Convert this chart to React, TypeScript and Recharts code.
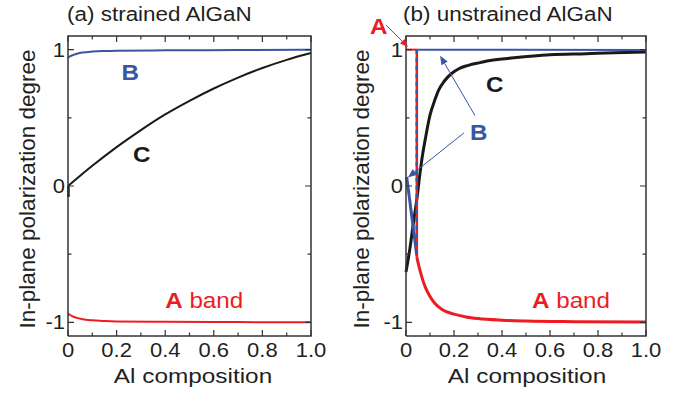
import React from 'react';
import { LineChart, Line, XAxis, YAxis, ReferenceLine, ReferenceDot } from 'recharts';

const FONT = '"Liberation Sans", Arial, Helvetica, sans-serif';
const TXT = '#231f20';
const BLUE = '#3a55a4';
const RED = '#ed1c24';
const BLACK = '#1a1a1a';
const FRAME = '#333333';

// ---- ticks ----
const xTicks = [0, 0.1, 0.2, 0.3, 0.4, 0.5, 0.6, 0.7, 0.8, 0.9, 1.0];
const xMajorLabels = ['0', '0.2', '0.4', '0.6', '0.8', '1.0'];
const yTicks = [-1, -0.5, 0, 0.5, 1];
const yMajorLabels = ['-1', '0', '1'];
const xDomain = [0, 1];
const yDomain = [-1.1, 1.1];

// ---- (a) strained AlGaN ----
const aB = [
  { x: 0, y: 0.94 }, { x: 0.01, y: 0.952 }, { x: 0.02, y: 0.96 }, { x: 0.04, y: 0.972 },
  { x: 0.06, y: 0.979 }, { x: 0.1, y: 0.986 }, { x: 0.15, y: 0.99 }, { x: 0.2, y: 0.992 },
  { x: 0.4, y: 0.995 }, { x: 0.7, y: 0.997 }, { x: 1.0, y: 1.0 },
];
const aCStub = [{ x: 0.002, y: -0.08 }, { x: 0.002, y: 0 }];
const aC = [
  { x: 0, y: 0 }, { x: 0.05, y: 0.075 }, { x: 0.1, y: 0.148 }, { x: 0.2, y: 0.285 },
  { x: 0.3, y: 0.41 }, { x: 0.4, y: 0.525 }, { x: 0.5, y: 0.625 }, { x: 0.6, y: 0.715 },
  { x: 0.7, y: 0.795 }, { x: 0.8, y: 0.865 }, { x: 0.9, y: 0.925 }, { x: 1.0, y: 0.975 },
];
const aA = [
  { x: 0, y: -0.935 }, { x: 0.01, y: -0.948 }, { x: 0.02, y: -0.957 }, { x: 0.04, y: -0.969 },
  { x: 0.06, y: -0.977 }, { x: 0.1, y: -0.985 }, { x: 0.15, y: -0.99 }, { x: 0.2, y: -0.993 },
  { x: 0.4, y: -0.996 }, { x: 0.7, y: -0.998 }, { x: 1.0, y: -1.0 },
];

// ---- (b) unstrained AlGaN ----
const bATop = [{ x: 0, y: 1 }, { x: 0.045, y: 1 }];
const bJump = [{ x: 0.045, y: 1 }, { x: 0.045, y: -0.52 }];
const bA = [
  { x: 0.045, y: -0.52 }, { x: 0.05, y: -0.56 }, { x: 0.06, y: -0.63 }, { x: 0.07, y: -0.69 },
  { x: 0.08, y: -0.74 }, { x: 0.1, y: -0.81 }, { x: 0.12, y: -0.86 }, { x: 0.15, y: -0.905 },
  { x: 0.2, y: -0.94 }, { x: 0.25, y: -0.96 }, { x: 0.3, y: -0.972 }, { x: 0.4, y: -0.984 },
  { x: 0.5, y: -0.99 }, { x: 0.7, y: -0.995 }, { x: 1.0, y: -0.998 },
];
const bBTop = [{ x: 0.045, y: 1 }, { x: 1.0, y: 0.997 }];
const bBLow = [{ x: 0.003, y: 0.067 }, { x: 0.045, y: -0.51 }];
const bC = [
  { x: 0, y: -0.63 }, { x: 0.017, y: -0.45 }, { x: 0.03, y: -0.28 }, { x: 0.045, y: -0.1 },
  { x: 0.058, y: 0.09 }, { x: 0.07, y: 0.24 }, { x: 0.08, y: 0.34 }, { x: 0.1, y: 0.52 },
  { x: 0.12, y: 0.63 }, { x: 0.135, y: 0.7 }, { x: 0.16, y: 0.77 }, { x: 0.19, y: 0.825 },
  { x: 0.22, y: 0.86 }, { x: 0.26, y: 0.885 }, { x: 0.31, y: 0.905 }, { x: 0.35, y: 0.92 },
  { x: 0.45, y: 0.94 }, { x: 0.6, y: 0.962 }, { x: 0.75, y: 0.97 }, { x: 0.87, y: 0.977 },
  { x: 1.0, y: 0.982 },
];

// ---- layout ----
const CHART_H = 395;
const X_AXIS_H = 59;
const Y_AXIS_W = 1;
const panelA = { left: 0, width: 343, margin: { top: 36, right: 32, left: 67, bottom: 0 } };
const panelB = { left: 343, width: 344, margin: { top: 36, right: 41, left: 62, bottom: 0 } };

const isMajorX = (v: number) => Math.round(v * 10) % 2 === 0;
const isMajorY = (v: number) => Math.abs(v - Math.round(v)) < 1e-6;

// frame outline (plot box) and inward tick marks, as line series in data units
const frameLoop = [
  { x: xDomain[0], y: yDomain[0] }, { x: xDomain[1], y: yDomain[0] },
  { x: xDomain[1], y: yDomain[1] }, { x: xDomain[0], y: yDomain[1] },
  { x: xDomain[0], y: yDomain[0] },
];
const tickMarks = (pn: typeof panelA) => {
  const plotW = pn.width - pn.margin.left - Y_AXIS_W - pn.margin.right;
  const plotH = CHART_H - pn.margin.top - pn.margin.bottom - X_AXIS_H;
  const dxPerPx = (xDomain[1] - xDomain[0]) / plotW;
  const dyPerPx = (yDomain[1] - yDomain[0]) / plotH;
  const pts: { x: number; y: number | null }[] = [];
  xTicks.forEach((v) => {
    const len = (isMajorX(v) ? 6 : 3.5) * dyPerPx;
    pts.push({ x: v, y: yDomain[0] }, { x: v, y: yDomain[0] + len }, { x: v, y: null });
    pts.push({ x: v, y: yDomain[1] }, { x: v, y: yDomain[1] - len }, { x: v, y: null });
  });
  yTicks.forEach((v) => {
    const len = (isMajorY(v) ? 6 : 3.5) * dxPerPx;
    pts.push({ x: xDomain[0], y: v }, { x: xDomain[0] + len, y: v }, { x: xDomain[0], y: null });
    pts.push({ x: xDomain[1], y: v }, { x: xDomain[1] - len, y: v }, { x: xDomain[1], y: null });
  });
  return pts;
};
const ticksA = tickMarks(panelA);
const ticksB = tickMarks(panelB);

const BottomLabel = (p: any) => {
  const v = p.payload.value;
  if (!isMajorX(v)) return <g />;
  return (
    <text transform={`translate(${p.x},${p.y + 21}) scale(1.1,1)`} textAnchor="middle"
      fontSize={20} fontFamily={FONT} fill={TXT} stroke="none">{xMajorLabels[Math.round(v * 5)]}</text>
  );
};
const LeftLabel = (p: any) => {
  const v = p.payload.value;
  if (!isMajorY(v)) return <g />;
  return (
    <text transform={`translate(${p.x - 3},${p.y + 7}) scale(1.1,1)`} textAnchor="end"
      fontSize={20} fontFamily={FONT} fill={TXT} stroke="none">{yMajorLabels[Math.round(v) + 1]}</text>
  );
};

const bandLabel = (text: string, color: string, suffix?: string) => (p: any) => (
  <text transform={`translate(${p.cx},${p.cy}) scale(1.1,1)`} fontSize={22} fontFamily={FONT} fill={color}>
    <tspan fontWeight="bold">{text}</tspan>
    {suffix ? <tspan>{suffix}</tspan> : null}
  </text>
);

const arrowShape = (color: string, head: number) => (p: any) => {
  const dx = p.x2 - p.x1, dy = p.y2 - p.y1;
  const len = Math.sqrt(dx * dx + dy * dy) || 1;
  const ux = dx / len, uy = dy / len;
  const bx = p.x2 - ux * head, by = p.y2 - uy * head;
  const w = head * 0.4;
  const pts = `${p.x2},${p.y2} ${bx - uy * w},${by + ux * w} ${bx + uy * w},${by - ux * w}`;
  return (
    <g>
      <line x1={p.x1} y1={p.y1} x2={bx} y2={by} stroke={color} strokeWidth={1} />
      <polygon points={pts} fill={color} />
    </g>
  );
};

const PanelA = () => (
  <LineChart width={panelA.width} height={CHART_H} margin={panelA.margin}>
    <XAxis dataKey="x" type="number" domain={xDomain} ticks={xTicks} interval={0}
      height={X_AXIS_H} tickSize={0} tickMargin={0} tickLine={false}
      axisLine={false} tick={<BottomLabel />} />
    <YAxis type="number" domain={yDomain} ticks={yTicks} interval={0}
      width={Y_AXIS_W} tickSize={0} tickMargin={0} tickLine={false}
      axisLine={false} tick={<LeftLabel />} />
    <Line data={aB} dataKey="y" type="monotone" stroke={BLUE} strokeWidth={2} dot={false} isAnimationActive={false} />
    <Line data={aCStub} dataKey="y" type="linear" stroke={BLACK} strokeWidth={2.5} dot={false} isAnimationActive={false} />
    <Line data={aC} dataKey="y" type="monotone" stroke={BLACK} strokeWidth={2} dot={false} isAnimationActive={false} />
    <Line data={aA} dataKey="y" type="monotone" stroke={RED} strokeWidth={2} dot={false} isAnimationActive={false} />
    <Line data={ticksA} dataKey="y" type="linear" stroke={FRAME} strokeWidth={1.2} dot={false}
      connectNulls={false} isAnimationActive={false} />
    <Line data={frameLoop} dataKey="y" type="linear" stroke={FRAME} strokeWidth={1.5} dot={false}
      isAnimationActive={false} />
    <ReferenceDot x={0.22} y={0.78} r={0} shape={bandLabel('B', BLUE)} />
    <ReferenceDot x={0.267} y={0.174} r={0} shape={bandLabel('C', BLACK)} />
    <ReferenceDot x={0.4} y={-0.895} r={0} shape={bandLabel('A', RED, ' band')} />
  </LineChart>
);

const PanelB = () => (
  <LineChart width={panelB.width} height={CHART_H} margin={panelB.margin}>
    <XAxis dataKey="x" type="number" domain={xDomain} ticks={xTicks} interval={0}
      height={X_AXIS_H} tickSize={0} tickMargin={0} tickLine={false}
      axisLine={false} tick={<BottomLabel />} />
    <YAxis type="number" domain={yDomain} ticks={yTicks} interval={0}
      width={Y_AXIS_W} tickSize={0} tickMargin={0} tickLine={false}
      axisLine={false} tick={<LeftLabel />} />
    <Line data={bC} dataKey="y" type="monotone" stroke={BLACK} strokeWidth={3} dot={false} isAnimationActive={false} />
    <Line data={bBTop} dataKey="y" type="linear" stroke={BLUE} strokeWidth={2} dot={false} isAnimationActive={false} />
    <Line data={bATop} dataKey="y" type="linear" stroke={RED} strokeWidth={2} dot={false} isAnimationActive={false} />
    <Line data={bBLow} dataKey="y" type="linear" stroke={BLUE} strokeWidth={3} dot={false} isAnimationActive={false} />
    <Line data={bJump} dataKey="y" type="linear" stroke={RED} strokeWidth={2.5} dot={false} isAnimationActive={false} />
    <Line data={bJump} dataKey="y" type="linear" stroke={BLUE} strokeWidth={2.5} strokeDasharray="4 4"
      dot={false} isAnimationActive={false} />
    <Line data={bA} dataKey="y" type="monotone" stroke={RED} strokeWidth={3} dot={false} isAnimationActive={false} />
    <Line data={ticksB} dataKey="y" type="linear" stroke={FRAME} strokeWidth={1.2} dot={false}
      connectNulls={false} isAnimationActive={false} />
    <Line data={frameLoop} dataKey="y" type="linear" stroke={FRAME} strokeWidth={1.5} dot={false}
      isAnimationActive={false} />
    <ReferenceLine segment={[{ x: 0.2875, y: 0.516 }, { x: 0.142, y: 0.956 }]} ifOverflow="visible"
      shape={arrowShape(BLUE, 9)} />
    <ReferenceLine segment={[{ x: 0.242, y: 0.39 }, { x: 0.008, y: 0.062 }]} ifOverflow="visible"
      shape={arrowShape(BLUE, 9)} />
    <ReferenceLine segment={[{ x: -0.083, y: 1.18 }, { x: 0.008, y: 1.02 }]} ifOverflow="visible"
      shape={arrowShape(RED, 8)} />
    <ReferenceDot x={0.333} y={0.686} r={0} shape={bandLabel('C', BLACK)} />
    <ReferenceDot x={0.267} y={0.335} r={0} shape={bandLabel('B', BLUE)} />
    <ReferenceDot x={0.525} y={-0.896} r={0} shape={bandLabel('A', RED, ' band')} />
    <ReferenceDot x={-0.15} y={1.118} r={0} ifOverflow="visible" shape={bandLabel('A', RED)} />
  </LineChart>
);

export default function App() {
  return (
    <div style={{ position: 'absolute', left: 0, top: 0, width: 687, height: 395, background: '#fff', overflow: 'hidden' }}>
      <div style={{ position: 'absolute', left: panelA.left, top: 0 }}><PanelA /></div>
      <div style={{ position: 'absolute', left: panelB.left, top: 0 }}><PanelB /></div>
      <svg width={687} height={395} style={{ position: 'absolute', left: 0, top: 0, pointerEvents: 'none' }}>
        <g fontFamily={FONT} fill={TXT}>
          <text transform="translate(67,20.5) scale(1.07,1)" fontSize={21}>(a) strained AlGaN</text>
          <text transform="translate(403,20.5) scale(1.07,1)" fontSize={21}>(b) unstrained AlGaN</text>
          <text transform="translate(193,383) scale(1.16,1)" fontSize={21} textAnchor="middle">Al composition</text>
          <text transform="translate(527,383) scale(1.16,1)" fontSize={21} textAnchor="middle">Al composition</text>
          <text transform="translate(35,189) rotate(-90)" fontSize={22.5} textAnchor="middle">In-plane polarization degree</text>
          <text transform="translate(369,189) rotate(-90)" fontSize={22.5} textAnchor="middle">In-plane polarization degree</text>
        </g>
      </svg>
    </div>
  );
}
